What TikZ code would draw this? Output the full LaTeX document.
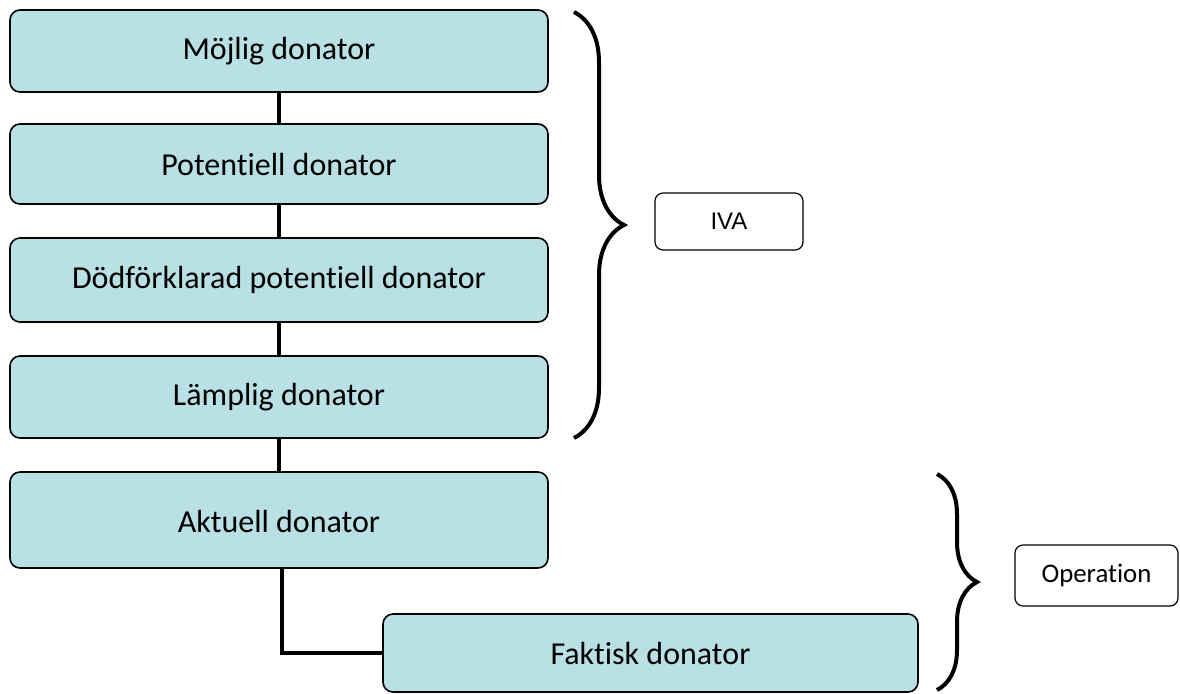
\documentclass[tikz,border=0pt]{standalone}
\usepackage{fontspec}
\setmainfont{Carlito}[Ligatures=NoCommon]
\newfontfamily\arialfont{Liberation Sans}
\usetikzlibrary{decorations.pathreplacing}

\definecolor{boxblue}{RGB}{185,224,228}

\begin{document}
\begin{tikzpicture}[x=0.5pt,y=-0.5pt]
\tikzstyle{every node}+=[inner sep=0pt]
\tikzstyle{stage}=[draw=black,line width=0.8pt,fill=boxblue,rounded corners=5pt,
  minimum width=269pt,font=\fontsize{16}{19}\selectfont]
\tikzstyle{phase}=[draw=black,line width=0.6pt,fill=white,rounded corners=4pt]
\tikzstyle{link}=[line width=2.3pt]
\tikzstyle{curly}=[line width=2pt,decorate,decoration={brace,amplitude=#1}]
\useasboundingbox (0,0) rectangle (1180,693);
% donor chain
\node [stage,minimum height=41pt] (mojlig) at (279,51) {Möjlig donator};
\node [stage,minimum height=40pt] (potentiell) at (279,164) {Potentiell donator};
\node [stage,minimum height=42pt] (dodforklarad) at (279,280) {Dödförklarad potentiell donator};
\node [stage,minimum height=41pt] (lamplig) at (279,397) {Lämplig donator};
\node [stage,minimum height=48pt] (aktuell) at (279,520) {\raisebox{-3.5pt}[8pt][3pt]{Aktuell donator}};
\node [stage,minimum height=39pt,minimum width=267.5pt] (faktisk) at (650.5,653) {Faktisk donator};
\draw [link] (mojlig) -- (potentiell);
\draw [link] (potentiell) -- (dodforklarad);
\draw [link] (dodforklarad) -- (lamplig);
\draw [link] (lamplig) -- (aktuell);
\draw [link] ([xshift=1.5pt]aktuell.south) |- (faktisk.west);
% braces
\coordinate (ivatop) at (574,12);
\coordinate (ivabot) at (574,438);
\draw [curly=25pt] (ivatop) -- (ivabot);
\coordinate (optop) at (937,474);
\coordinate (opbot) at (937,690);
\draw [curly=20pt] (optop) -- (opbot);
\node [phase,minimum width=74pt,minimum height=28.5pt,font=\arialfont\fontsize{12}{14}\selectfont] (iva) at (729,221.5) {IVA};
\node [phase,minimum width=81.5pt,minimum height=30.5pt,font=\fontsize{13.4}{16}\selectfont] (operation) at (1096.5,575.5) {Operation};
\end{tikzpicture}
\end{document}
